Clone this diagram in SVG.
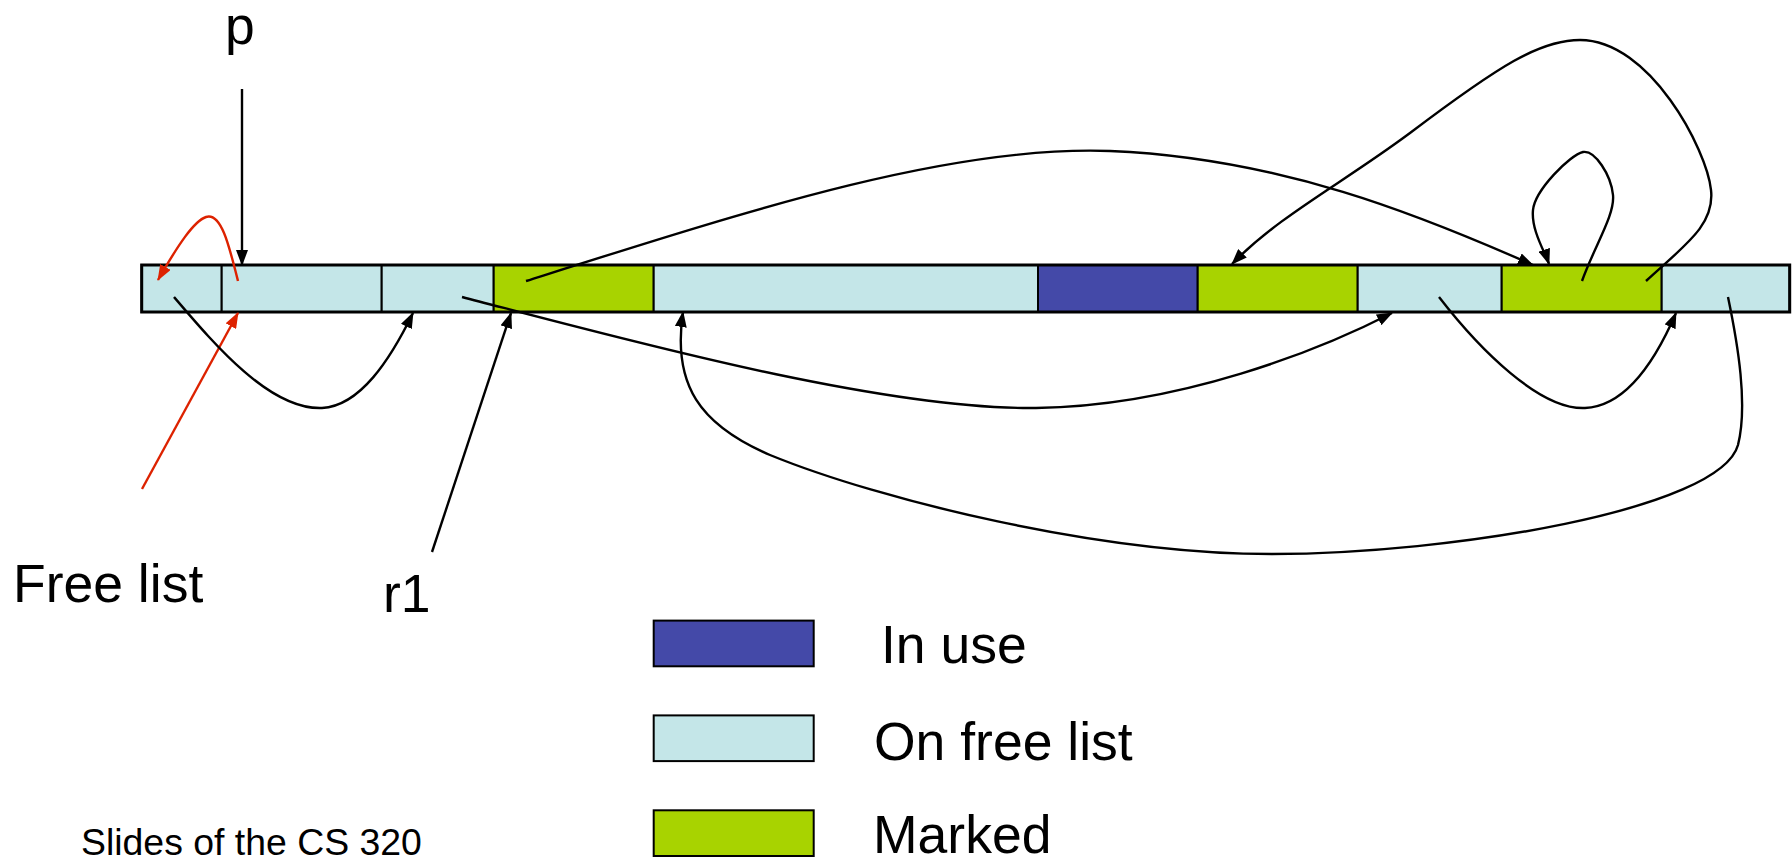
<svg xmlns="http://www.w3.org/2000/svg" width="1792" height="862" viewBox="0 0 1792 862">
<style>
  .free { fill: #C4E6E8; stroke: #000; stroke-width: 2; }
  .mark { fill: #A8D300; stroke: #000; stroke-width: 2; }
  .used { fill: #4449A8; stroke: #000; stroke-width: 2; }
  .lbl { font-family: "Liberation Sans", Arial, sans-serif; font-size: 53.5px; fill: #000; }
  .small { font-family: "Liberation Sans", Arial, sans-serif; font-size: 37.4px; fill: #000; }
  .c { fill: none; stroke: #000; stroke-width: 2.4; marker-end: url(#ah); }
  .cr { fill: none; stroke: #DD2200; stroke-width: 2.4; marker-end: url(#ahr); }
</style>
<defs>
  <marker id="ah" viewBox="0 0 16 12" refX="15" refY="6" markerWidth="16" markerHeight="12" markerUnits="userSpaceOnUse" orient="auto">
    <path d="M0,0 L16,6 L0,12 z" fill="#000"/>
  </marker>
  <marker id="ahr" viewBox="0 0 16 12" refX="15" refY="6" markerWidth="16" markerHeight="12" markerUnits="userSpaceOnUse" orient="auto">
    <path d="M0,0 L16,6 L0,12 z" fill="#DD2200"/>
  </marker>
</defs>
<rect width="1792" height="862" fill="#fff"/>

<g id="heap">
  <g id="cell1"><rect class="free" x="141.7" y="265" width="80" height="47"/></g>
  <g id="cell2"><rect class="free" x="221.7" y="265" width="160" height="47"/></g>
  <g id="cell3"><rect class="free" x="381.7" y="265" width="112" height="47"/></g>
  <g id="cell4"><rect class="mark" x="493.7" y="265" width="160" height="47"/></g>
  <g id="cell5"><rect class="free" x="653.7" y="265" width="384.3" height="47"/></g>
  <g id="cell6"><rect class="used" x="1038" y="265" width="159.7" height="47"/></g>
  <g id="cell7"><rect class="mark" x="1197.7" y="265" width="160" height="47"/></g>
  <g id="cell8"><rect class="free" x="1357.7" y="265" width="144" height="47"/></g>
  <g id="cell9"><rect class="mark" x="1501.7" y="265" width="160" height="47"/></g>
  <g id="cell10"><rect class="free" x="1661.7" y="265" width="128" height="47"/></g>
  <rect x="141.7" y="265" width="1648" height="47" fill="none" stroke="#000" stroke-width="3"/>
</g>

<g id="labels">
  <g id="label-p"><text class="lbl" x="225" y="44" font-size="54">p</text></g>
  <g id="label-freelist"><text class="lbl" x="13" y="602">Free list</text></g>
  <g id="label-r1"><text class="lbl" x="383" y="612">r1</text></g>
  <g id="label-credit"><text class="small" x="81" y="855">Slides of the CS 320</text></g>
</g>

<g id="legend">
  <g id="legend-inuse">
    <rect class="used" x="653.7" y="620.6" width="160" height="45.7"/>
    <text class="lbl" x="881" y="663">In use</text>
  </g>
  <g id="legend-free">
    <rect class="free" x="653.7" y="715.4" width="160" height="45.7"/>
    <text class="lbl" x="874" y="760">On free list</text>
  </g>
  <g id="legend-marked">
    <rect class="mark" x="653.7" y="810.3" width="160" height="45.7"/>
    <text class="lbl" x="873" y="853">Marked</text>
  </g>
</g>

<g id="connectors">
  <path class="c" d="M242,89 L242,265"/>
  <path class="cr" d="M238,281 C229,245 221,212 206,217 C194,221 178,245 158,280"/>
  <path class="cr" d="M142,489 L238,313"/>
  <path class="c" d="M174,297 C215,345 270,410 322,408 C360,406 390,360 413,313"/>
  <path class="c" d="M432,552 L511,313"/>
  <path class="c" d="M462,297 C620,338 880,410 1036,408 C1180,406 1320,350 1392,313"/>
  <path class="c" d="M526,281 C750,210 950,145 1110,151 C1280,158 1420,215 1533,265"/>
  <path class="c" d="M1646,281 C1685,245 1715,225 1711,190 C1707,150 1650,40 1580,40 C1540,40 1500,65 1410,133 C1340,185 1280,215 1232,264"/>
  <path class="c" d="M1582,281 C1595,245 1615,215 1613,195 C1611,175 1595,150 1583,152 C1570,155 1535,190 1533,210 C1531,230 1545,252 1549,264"/>
  <path class="c" d="M1439,297 C1480,350 1540,410 1585,408 C1630,406 1660,350 1676,313"/>
  <path class="c" d="M1728,297 C1738,345 1748,405 1738,445 C1720,510 1450,554 1272,554 C1100,554 880,500 770,455 C700,425 672,385 683,312"/>
</g>
</svg>
